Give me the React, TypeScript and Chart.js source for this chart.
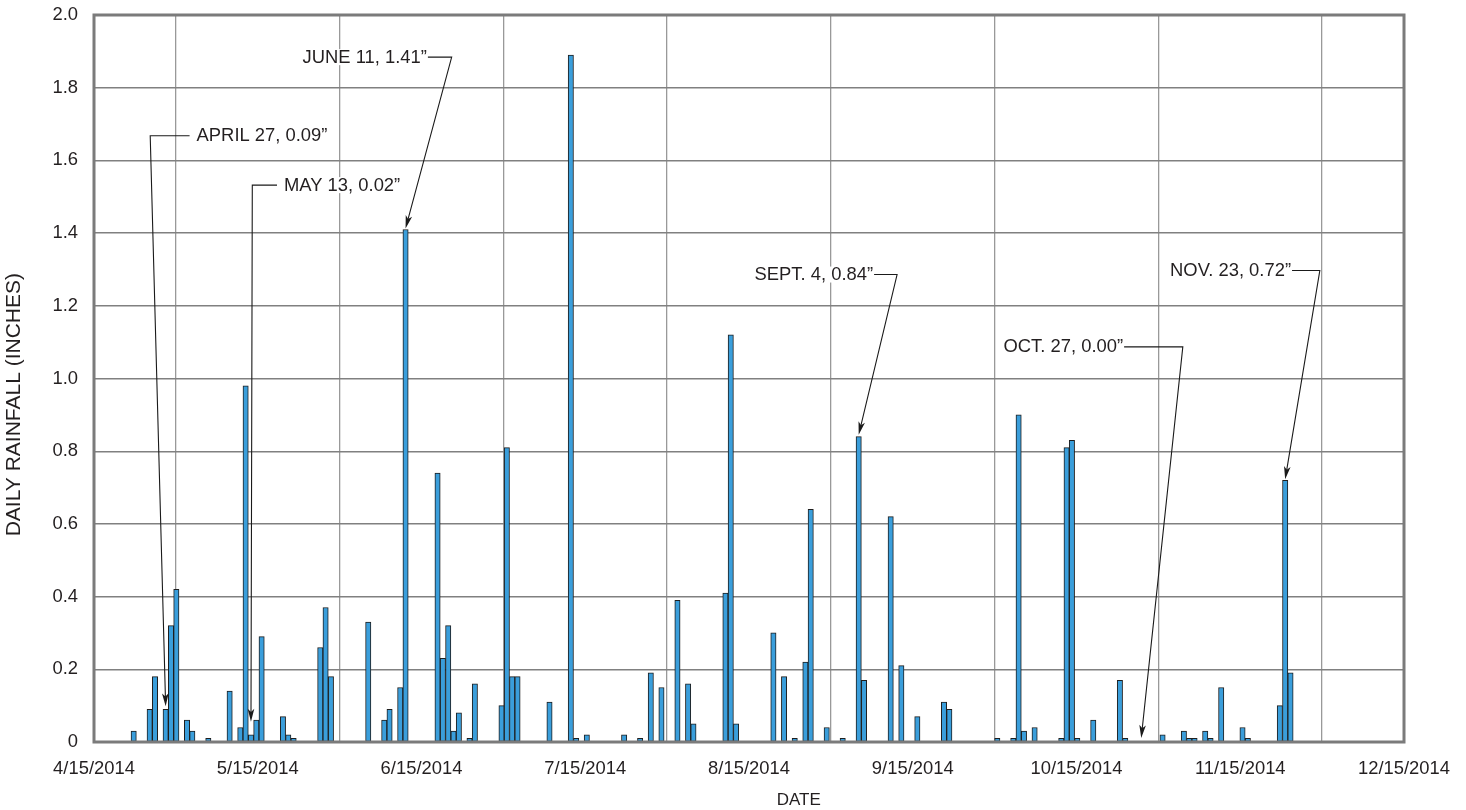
import React, { useEffect, useRef } from 'react';
import { Chart, registerables } from 'chart.js';

Chart.register(...registerables);

// ---- data ----
const rainDates = [
  '2014-04-21', '2014-04-24', '2014-04-25', '2014-04-27', '2014-04-28', '2014-04-29',
  '2014-05-01', '2014-05-02', '2014-05-05', '2014-05-09', '2014-05-11', '2014-05-12',
  '2014-05-13', '2014-05-14', '2014-05-15', '2014-05-19', '2014-05-20', '2014-05-21',
  '2014-05-26', '2014-05-27', '2014-05-28',
  '2014-06-04', '2014-06-07', '2014-06-08', '2014-06-10', '2014-06-11', '2014-06-17',
  '2014-06-18', '2014-06-19', '2014-06-20', '2014-06-21', '2014-06-23', '2014-06-24',
  '2014-06-29', '2014-06-30',
  '2014-07-01', '2014-07-02', '2014-07-08', '2014-07-12', '2014-07-13', '2014-07-15',
  '2014-07-22', '2014-07-25', '2014-07-27', '2014-07-29',
  '2014-08-01', '2014-08-03', '2014-08-04', '2014-08-10', '2014-08-11', '2014-08-12',
  '2014-08-19', '2014-08-21', '2014-08-23', '2014-08-25', '2014-08-26', '2014-08-29',
  '2014-09-01', '2014-09-04', '2014-09-05', '2014-09-10', '2014-09-12', '2014-09-15',
  '2014-09-20', '2014-09-21', '2014-09-30',
  '2014-10-03', '2014-10-04', '2014-10-05', '2014-10-07', '2014-10-12', '2014-10-13',
  '2014-10-14', '2014-10-15', '2014-10-18', '2014-10-23', '2014-10-24', '2014-10-31',
  '2014-11-04', '2014-11-05', '2014-11-06', '2014-11-08', '2014-11-09', '2014-11-11',
  '2014-11-15', '2014-11-16', '2014-11-22', '2014-11-23', '2014-11-24',
];

const rainInches = [
  0.03, 0.09, 0.18, 0.09, 0.32, 0.42,
  0.06, 0.03, 0.01, 0.14, 0.04, 0.98,
  0.02, 0.06, 0.29, 0.07, 0.02, 0.01,
  0.26, 0.37, 0.18,
  0.33, 0.06, 0.09, 0.15, 1.41, 0.74,
  0.23, 0.32, 0.03, 0.08, 0.01, 0.16,
  0.10, 0.81,
  0.18, 0.18, 0.11, 1.89, 0.01, 0.02,
  0.02, 0.01, 0.19, 0.15,
  0.39, 0.16, 0.05, 0.41, 1.12, 0.05,
  0.30, 0.18, 0.01, 0.22, 0.64, 0.04,
  0.01, 0.84, 0.17, 0.62, 0.21, 0.07,
  0.11, 0.09, 0.01,
  0.01, 0.90, 0.03, 0.04, 0.01, 0.81,
  0.83, 0.01, 0.06, 0.17, 0.01, 0.02,
  0.03, 0.01, 0.01, 0.03, 0.01, 0.15,
  0.04, 0.01, 0.10, 0.72, 0.19,
];

const xTickLabels = [
  '4/15/2014', '5/15/2014', '6/15/2014', '7/15/2014', '8/15/2014',
  '9/15/2014', '10/15/2014', '11/15/2014', '12/15/2014',
];

const yTickLabels = ['0', '0.2', '0.4', '0.6', '0.8', '1.0', '1.2', '1.4', '1.6', '1.8', '2.0'];

const xTitle = 'DATE';
const yTitle = 'DAILY RAINFALL (INCHES)';

// callouts
const calloutText = [
  'APRIL 27, 0.09\u201D', 'MAY 13, 0.02\u201D', 'JUNE 11, 1.41\u201D',
  'SEPT. 4, 0.84\u201D', 'OCT. 27, 0.00\u201D', 'NOV. 23, 0.72\u201D',
];
const calloutDates = ['2014-04-27', '2014-05-13', '2014-06-11', '2014-09-04', '2014-10-27', '2014-11-23'];
const calloutValues = [0.09, 0.02, 1.41, 0.84, 0.0, 0.72];
const calloutLabelDay = [17.8, 34.2, 61.0, 144.7, 191.6, 223.1];
const calloutLabelInches = [1.668, 1.532, 1.884, 1.286, 1.087, 1.297];
const calloutElbowDay = [9.1, 28.25, 65.65, 149.2, 202.8, 228.5];
const calloutAlign = ['left', 'left', 'right', 'right', 'right', 'right'];
const calloutTipGap = [3, 13, 1, 2, 4, 1];

// ---- helpers ----
const ORIGIN = Date.UTC(2014, 3, 15);
const dayOf = (s: string) => Math.round((Date.parse(s + 'T00:00:00Z') - ORIGIN) / 86400000);
const X_MIN = -1.444;
const X_MAX = 244.29;
const FONT_FAMILY = '"Liberation Sans", Arial, Helvetica, sans-serif';
const TEXT_COLOR = '#231f20';

const calloutPlugin = {
  id: 'callouts',
  afterDatasetsDraw(chart: any) {
    const { ctx, chartArea } = chart;
    const x = chart.scales.x;
    const y = chart.scales.y;
    ctx.save();
    // plot frame
    ctx.strokeStyle = '#7b7b7b';
    ctx.lineWidth = 3;
    ctx.strokeRect(chartArea.left, chartArea.top, chartArea.right - chartArea.left, chartArea.bottom - chartArea.top);

    ctx.font = `18.4px ${FONT_FAMILY}`;
    ctx.textBaseline = 'middle';
    ctx.textAlign = 'left';
    calloutText.forEach((t, i) => {
      const lx = x.getPixelForValue(calloutLabelDay[i]);
      const ly = y.getPixelForValue(calloutLabelInches[i]);
      const ex = x.getPixelForValue(calloutElbowDay[i]);
      const tx = x.getPixelForValue(dayOf(calloutDates[i]));
      const ty = y.getPixelForValue(calloutValues[i]) - calloutTipGap[i];
      const w = ctx.measureText(t).width;
      const left = calloutAlign[i] === 'left' ? lx : lx - w;
      ctx.fillStyle = '#ffffff';
      ctx.fillRect(left - 1, ly - 8, w + 2, 16);
      ctx.fillStyle = TEXT_COLOR;
      ctx.fillText(t, left, ly + 0.5);

      const hx = calloutAlign[i] === 'left' ? left - 7 : left + w + 1;
      const ang = Math.atan2(ty - ly, tx - ex);
      const L = 13;
      const hw = 3.3;
      const c = Math.cos(ang);
      const s = Math.sin(ang);
      ctx.strokeStyle = '#1a1a1a';
      ctx.lineWidth = 1.1;
      ctx.beginPath();
      ctx.moveTo(hx, ly);
      ctx.lineTo(ex, ly);
      ctx.lineTo(tx - L * 0.7 * c, ty - L * 0.7 * s);
      ctx.stroke();
      ctx.fillStyle = '#1a1a1a';
      ctx.beginPath();
      ctx.moveTo(tx, ty);
      ctx.lineTo(tx - L * c + hw * s, ty - L * s - hw * c);
      ctx.lineTo(tx - L * 0.75 * c, ty - L * 0.75 * s);
      ctx.lineTo(tx - L * c - hw * s, ty - L * s + hw * c);
      ctx.closePath();
      ctx.fill();
    });

    // axis titles (placed as in the reference, slightly off the plot centre)
    ctx.fillStyle = TEXT_COLOR;
    ctx.font = `17px ${FONT_FAMILY}`;
    ctx.textAlign = 'center';
    ctx.textBaseline = 'middle';
    ctx.fillText(xTitle, chartArea.left + (chartArea.right - chartArea.left) * 0.538, 800);
    ctx.save();
    ctx.translate(14, chartArea.top + (chartArea.bottom - chartArea.top) * 0.536);
    ctx.rotate(-Math.PI / 2);
    ctx.font = `21px ${FONT_FAMILY}`;
    ctx.fillText(yTitle, 0, 0);
    ctx.restore();

    ctx.restore();
  },
};

export default function App() {
  const canvasRef = useRef<HTMLCanvasElement | null>(null);

  useEffect(() => {
    const canvas = canvasRef.current;
    if (!canvas) return;
    const points = rainDates.map((d, i) => ({ x: dayOf(d), y: rainInches[i] }));
    const xStep = (X_MAX - X_MIN) / (xTickLabels.length - 1);

    const chart = new Chart(canvas, {
      type: 'bar',
      data: {
        datasets: [
          {
            label: 'Daily rainfall',
            data: points as any,
            backgroundColor: '#3a9edb',
            borderColor: '#1e1e1e',
            borderWidth: 1,
            borderSkipped: false,
            categoryPercentage: 1,
            barPercentage: 1,
          },
        ],
      },
      options: {
        animation: false,
        responsive: false,
        devicePixelRatio: 1,
        layout: { padding: { top: 15, right: 62, left: 0, bottom: 0 } },
        plugins: {
          legend: { display: false },
          tooltip: { enabled: false },
        },
        scales: {
          x: {
            type: 'linear',
            min: X_MIN,
            max: X_MAX,
            offset: false,
            afterBuildTicks: (scale: any) => {
              scale.ticks = xTickLabels.map((_, i) => ({ value: X_MIN + i * xStep }));
            },
            afterFit: (scale: any) => {
              scale.height = 68;
              scale.paddingLeft = 0;
              scale.paddingRight = 0;
            },
            grid: { color: '#999999', lineWidth: 1.3, drawTicks: false },
            border: { display: false },
            ticks: {
              padding: 16,
              maxRotation: 0,
              autoSkip: false,
              color: TEXT_COLOR,
              font: { family: FONT_FAMILY, size: 18.4 },
              callback: (_v: any, i: number) => xTickLabels[i],
            },
            title: { display: false },
          },
          y: {
            min: 0,
            max: 2,
            afterBuildTicks: (scale: any) => {
              scale.ticks = yTickLabels.map((_, i) => ({ value: i * 0.2 }));
            },
            afterFit: (scale: any) => {
              scale.width = 94;
              scale.paddingTop = 0;
              scale.paddingBottom = 0;
            },
            grid: { color: '#808080', lineWidth: 1.4, drawTicks: false },
            border: { display: false },
            ticks: {
              padding: 16,
              color: TEXT_COLOR,
              font: { family: FONT_FAMILY, size: 18.4 },
              callback: (_v: any, i: number) => yTickLabels[i],
            },
            title: { display: false },
          },
        },
      },
      plugins: [calloutPlugin],
    });
    return () => chart.destroy();
  }, []);

  return (
    <div style={{ position: 'fixed', left: 0, top: 0, width: 1466, height: 810, background: '#fff' }}>
      <canvas ref={canvasRef} width={1466} height={810} style={{ width: 1466, height: 810, display: 'block' }} />
    </div>
  );
}
